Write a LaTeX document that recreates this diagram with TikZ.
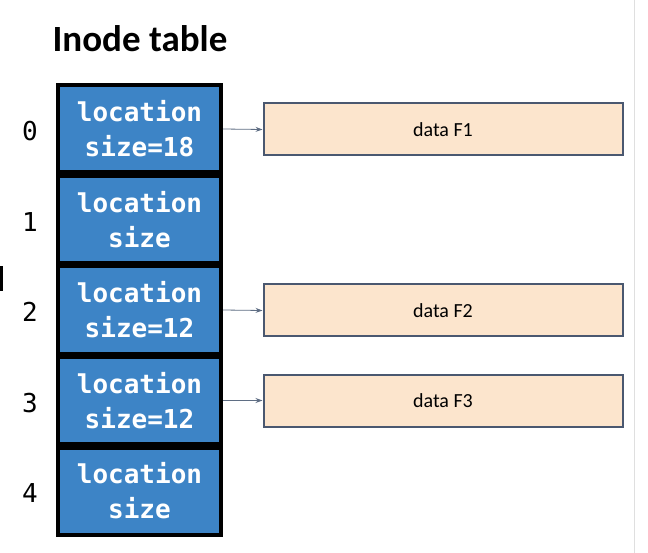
\documentclass[tikz,border=0pt]{standalone}
\usepackage{fontspec}
\setmainfont{Carlito}
\newfontfamily\monof{DejaVu Sans Mono}
\usetikzlibrary{arrows.meta}
\definecolor{cellblue}{HTML}{3D84C6}
\definecolor{datafill}{HTML}{FCE5CD}
\definecolor{dataedge}{HTML}{4A5870}
\definecolor{arrowc}{HTML}{5F6E84}
\tikzset{
  cell/.style={draw=black, line width=4pt, fill=cellblue, minimum width=163pt, minimum height=87pt, inner sep=0pt, align=center, text=white, font=\monof\bfseries\fontsize{26}{35}\selectfont},
  idx/.style={font=\monof\fontsize{26}{30}\selectfont},
  databox/.style={draw=dataedge, line width=2pt, fill=datafill, minimum width=359pt, minimum height=52pt, inner sep=0pt, font=\fontsize{20}{24}\selectfont},
  link/.style={draw=arrowc, line width=0.8pt, -{Stealth[length=7pt,width=5pt]}}
}
\begin{document}
\begin{tikzpicture}[x=1pt,y=-1pt]
\useasboundingbox (0,0) rectangle (648,553);
\fill[white] (0,0) rectangle (648,553);
\draw[gray!25, line width=1pt] (634,0) -- (634,553);
\fill[black] (0,266) rectangle (2.5,291);
\node[font=\bfseries\fontsize{37}{42}\selectfont, anchor=west] (title) at (49,39) {Inode table};
\node[cell] (c0) at (139.5,129) {location\\size=18};
\node[cell] (c1) at (139.5,219.5) {location\\size};
\node[cell] (c2) at (139.5,310) {location\\size=12};
\node[cell] (c3) at (139.5,400.5) {location\\size=12};
\node[cell] (c4) at (139.5,491) {location\\size};
\node[idx] (i0) at (30,131) {0};
\node[idx] (i1) at (30,222) {1};
\node[idx] (i2) at (30,312) {2};
\node[idx] (i3) at (30,403) {3};
\node[idx] (i4) at (30,493) {4};
\node[databox] (d1) at (443,129.5) {data F1};
\node[databox] (d2) at (443,310.5) {data F2};
\node[databox] (d3) at (443,400.5) {data F3};
\draw[link] (c0.east) -- (d1.west);
\draw[link] (c2.east) -- (d2.west);
\draw[link] (c3.east) -- (d3.west);
\end{tikzpicture}
\end{document}
